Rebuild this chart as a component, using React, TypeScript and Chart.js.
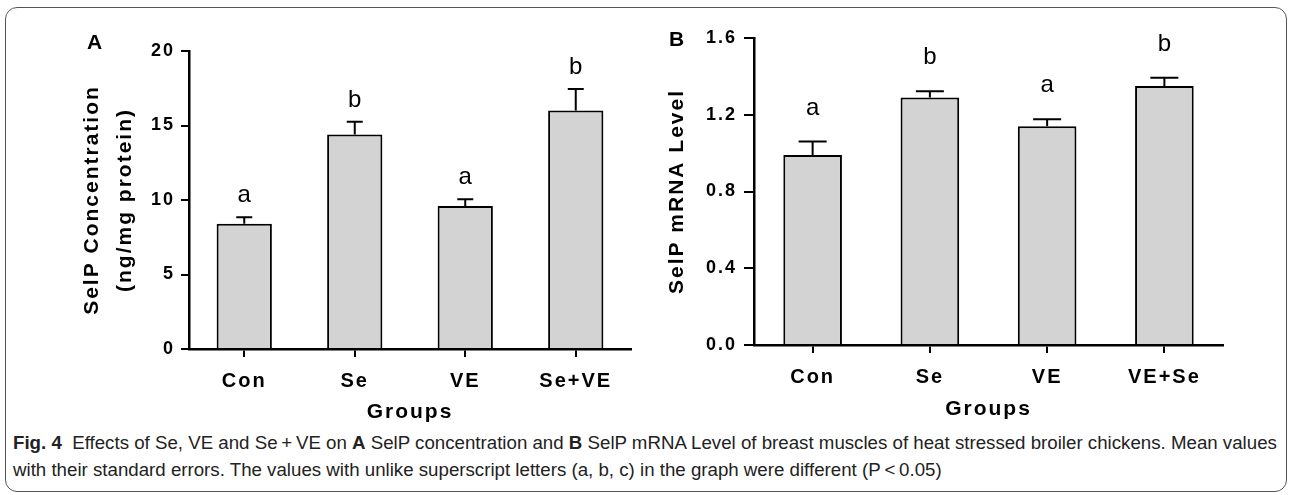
import React, { useEffect, useRef } from 'react';
import { Chart, registerables } from 'chart.js';

Chart.register(...registerables);

// ---------- data ----------
const categoriesA = ['Con', 'Se', 'VE', 'Se+VE'];
const meansA = [8.4, 14.4, 9.6, 16.0];
const errorsA = [0.45, 0.85, 0.45, 1.45];
const lettersA = ['a', 'b', 'a', 'b'];
const ticksA = [0, 5, 10, 15, 20];

const categoriesB = ['Con', 'Se', 'VE', 'VE+Se'];
const meansB = [0.99, 1.29, 1.14, 1.35];
const errorsB = [0.07, 0.033, 0.036, 0.043];
const lettersB = ['a', 'b', 'a', 'b'];
const ticksB = [0, 0.4, 0.8, 1.2, 1.6];

const yTitleA = ['SelP Concentration', '(ng/mg protein)'];
const yTitleB = 'SelP mRNA Level';
const xTitle = 'Groups';

const NARROW = "'Liberation Sans Narrow', 'Arial Narrow', 'Liberation Sans', Arial, sans-serif";
const SANS = "'Liberation Sans', Arial, sans-serif";

const spacingPlugin = {
  id: 'letterSpacingPlugin',
  beforeLayout(chart: any) {
    chart.ctx.letterSpacing = '2px';
  },
  beforeDraw(chart: any) {
    chart.ctx.letterSpacing = '2px';
  },
};

const errorBarPlugin = {
  id: 'errorBars',
  afterDatasetsDraw(chart: any, _args: any, opts: any) {
    const { ctx } = chart;
    const meta = chart.getDatasetMeta(0);
    const yScale = chart.scales.y;
    ctx.save();
    ctx.strokeStyle = '#000';
    ctx.lineWidth = 2;
    ctx.letterSpacing = '0px';
    meta.data.forEach((bar: any, i: number) => {
      const top = yScale.getPixelForValue(opts.means[i] + opts.errors[i]);
      ctx.beginPath();
      ctx.moveTo(bar.x, bar.y);
      ctx.lineTo(bar.x, top);
      ctx.moveTo(bar.x - opts.cap, top);
      ctx.lineTo(bar.x + opts.cap, top);
      ctx.stroke();
      ctx.font = `24px ${NARROW}`;
      ctx.fillStyle = '#000';
      ctx.textAlign = 'center';
      ctx.textBaseline = 'alphabetic';
      ctx.fillText(opts.letters[i], bar.x, top - opts.gap);
    });
    ctx.restore();
  },
};

type PanelSpec = {
  categories: string[];
  means: number[];
  errors: number[];
  letters: string[];
  ticks: number[];
  max: number;
  fmt: (v: number) => string;
  yTitle: string | string[];
  yTitleLH: number;
  yTitlePad: number;
  top: number;
  right: number;
  yWidth: number;
  xHeight: number;
  yTickLen: number;
  yTickPad: number;
  xTickPad: number;
  groupsPad: number;
  cap: number;
  gap: number;
};

function buildConfig(p: PanelSpec): any {
  return {
    type: 'bar',
    data: {
      labels: p.categories,
      datasets: [
        {
          data: p.means,
          backgroundColor: '#d3d3d3',
          borderColor: '#000',
          borderWidth: 2,
          borderSkipped: 'start',
          barPercentage: 1,
          categoryPercentage: 0.5,
        },
      ],
    },
    options: {
      animation: false,
      responsive: false,
      maintainAspectRatio: false,
      devicePixelRatio: 1,
      layout: { padding: { left: 0, top: p.top, right: p.right, bottom: 0 } },
      plugins: {
        legend: { display: false },
        tooltip: { enabled: false },
        title: { display: false },
        errorBars: { means: p.means, errors: p.errors, letters: p.letters, cap: p.cap, gap: p.gap },
      },
      scales: {
        x: {
          grid: {
            display: true,
            drawOnChartArea: false,
            drawTicks: true,
            tickLength: 8,
            color: '#000',
            lineWidth: 2,
            offset: false,
          },
          border: { display: true, color: '#000', width: 2.5, z: 1 },
          ticks: {
            color: '#000',
            font: { family: NARROW, size: 20, weight: 'bold' },
            padding: p.xTickPad,
            maxRotation: 0,
            autoSkip: false,
          },
          title: {
            display: true,
            text: xTitle,
            color: '#000',
            font: { family: NARROW, size: 21, weight: 'bold', lineHeight: 1.2 },
            padding: { top: 0, bottom: p.groupsPad },
          },
          afterFit: (s: any) => {
            s.height = p.xHeight;
            s.paddingLeft = 0;
            s.paddingRight = 0;
          },
        },
        y: {
          min: 0,
          max: p.max,
          afterBuildTicks: (s: any) => {
            s.ticks = p.ticks.map((v) => ({ value: v }));
          },
          grid: {
            display: true,
            drawOnChartArea: false,
            drawTicks: true,
            tickLength: p.yTickLen,
            color: '#000',
            lineWidth: 2,
          },
          border: { display: true, color: '#000', width: 2.5, z: 1 },
          ticks: {
            color: '#000',
            font: { family: NARROW, size: 18, weight: 'bold' },
            padding: p.yTickPad,
            callback: (v: any) => p.fmt(Number(v)),
          },
          title: {
            display: true,
            text: p.yTitle,
            color: '#000',
            font: { family: NARROW, size: 21, weight: 'bold', lineHeight: p.yTitleLH },
            padding: { top: p.yTitlePad, bottom: 0 },
          },
          afterFit: (s: any) => {
            s.width = p.yWidth;
            s.paddingTop = 0;
            s.paddingBottom = 0;
          },
        },
      },
    },
    plugins: [spacingPlugin, errorBarPlugin],
  };
}

const specA: PanelSpec = {
  categories: categoriesA,
  means: meansA,
  errors: errorsA,
  letters: lettersA,
  ticks: ticksA,
  max: 20,
  fmt: (v) => String(v),
  yTitle: yTitleA,
  yTitleLH: 1.6,
  yTitlePad: 75,
  top: 51,
  right: 14,
  yWidth: 189,
  xHeight: 81,
  yTickLen: 8,
  yTickPad: 6,
  xTickPad: 12,
  groupsPad: 5,
  cap: 8,
  gap: 15,
};

const specB: PanelSpec = {
  categories: categoriesB,
  means: meansB,
  errors: errorsB,
  letters: lettersB,
  ticks: ticksB,
  max: 1.6,
  fmt: (v) => v.toFixed(1),
  yTitle: yTitleB,
  yTitleLH: 1.2,
  yTitlePad: 20,
  top: 38,
  right: 67,
  yWidth: 109,
  xHeight: 85,
  yTickLen: 10,
  yTickPad: 7,
  xTickPad: 12,
  groupsPad: 8,
  cap: 14,
  gap: 27,
};

function Panel({ spec, left }: { spec: PanelSpec; left: number }) {
  const ref = useRef<HTMLCanvasElement | null>(null);
  useEffect(() => {
    if (!ref.current) return;
    const chart = new Chart(ref.current, buildConfig(spec));
    return () => chart.destroy();
  }, [spec]);
  return (
    <canvas
      ref={ref}
      width={645}
      height={430}
      style={{ position: 'absolute', left, top: 0, width: 645, height: 430, display: 'block' }}
    />
  );
}

export default function App() {
  useEffect(() => {
    document.body.style.margin = '0';
  }, []);
  const labelStyle: React.CSSProperties = {
    position: 'absolute',
    fontFamily: SANS,
    fontWeight: 'bold',
    fontSize: 21,
    lineHeight: '21px',
    color: '#000',
  };
  const captionStyle: React.CSSProperties = {
    position: 'absolute',
    left: 13,
    fontFamily: NARROW,
    fontSize: 18.7,
    lineHeight: '24px',
    color: '#222',
    whiteSpace: 'nowrap',
  };
  return (
    <div style={{ position: 'relative', width: 1290, height: 495, background: '#fff', overflow: 'hidden' }}>
      <div
        style={{
          position: 'absolute',
          left: 5,
          top: 7,
          width: 1282,
          height: 485,
          border: '1px solid #555',
          borderRadius: 12,
          boxSizing: 'border-box',
        }}
      />
      <Panel spec={specA} left={0} />
      <Panel spec={specB} left={645} />
      <div style={{ ...labelStyle, left: 87, top: 31 }}>A</div>
      <div style={{ ...labelStyle, left: 669, top: 28 }}>B</div>
      <div style={{ ...captionStyle, top: 431 }}>
        <b>Fig. 4</b>&nbsp;&nbsp;Effects of Se, VE and Se{'\u2009+\u2009'}VE on <b>A</b> SelP concentration and <b>B</b> SelP mRNA
        Level of breast muscles of heat stressed broiler chickens. Mean values
      </div>
      <div style={{ ...captionStyle, top: 458 }}>
        with their standard errors. The values with unlike superscript letters (a, b, c) in the graph were different (P{'\u2009<\u2009'}0.05)
      </div>
    </div>
  );
}
